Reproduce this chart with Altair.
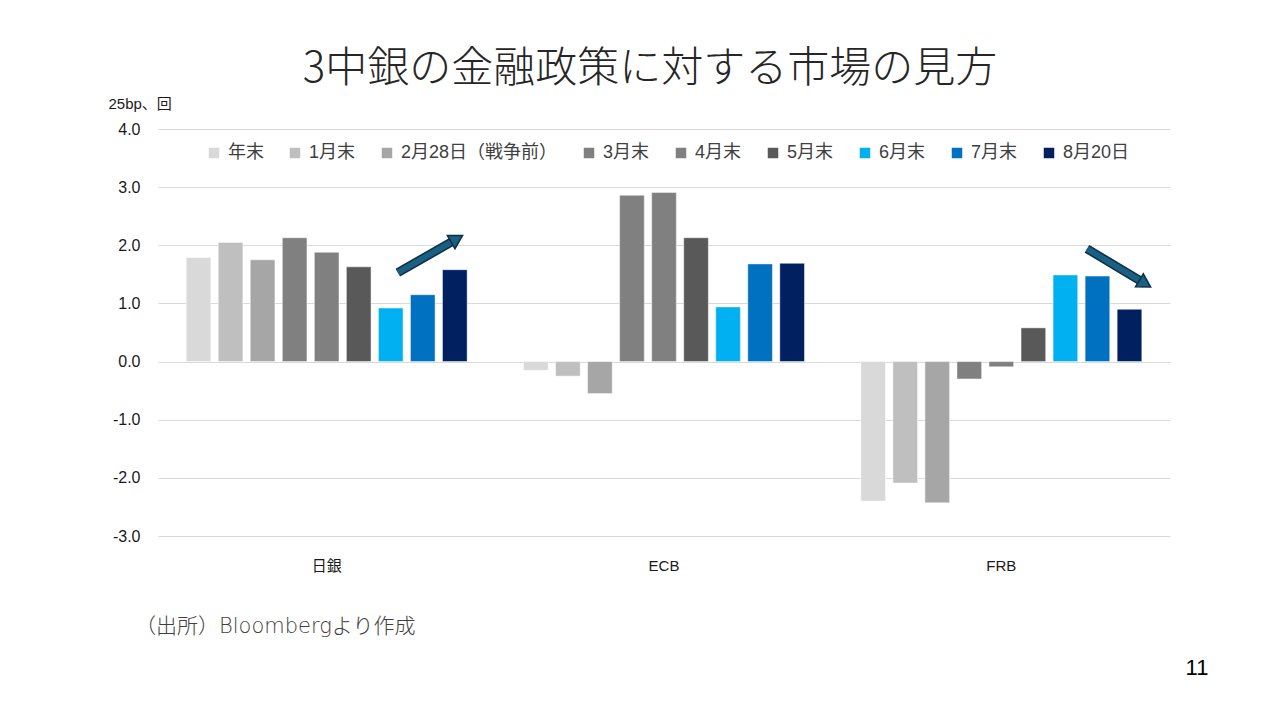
import altair as alt
import pandas as pd

banks = ["日銀", "ECB", "FRB"]
series = ["年末", "1月末", "2月28日（戦争前）", "3月末", "4月末", "5月末", "6月末", "7月末", "8月20日"]
boj = [1.79, 2.05, 1.75, 2.13, 1.88, 1.63, 0.92, 1.15, 1.58]
ecb = [-0.15, -0.25, -0.55, 2.86, 2.91, 2.13, 0.94, 1.68, 1.69]
frb = [-2.40, -2.09, -2.43, -0.30, -0.09, 0.58, 1.49, 1.47, 0.90]
colors = ["#D9D9D9", "#BFBFBF", "#A6A6A6", "#808080", "#808080", "#595959", "#00B0F0", "#0070C0", "#002060"]

# annotation arrows (in group units on x, data units on y)
arrow_id = ["up", "down"]
arrow_x0 = [0.711, 2.754]
arrow_y0 = [1.53, 1.94]
arrow_x1 = [0.886, 2.926]
arrow_y1 = [2.11, 1.34]
arrow_angle = [60, 121]

title_text = "3中銀の金融政策に対する市場の見方"
unit_text = "25bp、回"
note_text = "（出所）Bloombergより作成"
page_text = "11"

rows = []
for b, vals in zip(banks, [boj, ecb, frb]):
    for s, v in zip(series, vals):
        rows.append({"bank": b, "series": s, "value": v})
df = pd.DataFrame(rows)

arrow_rows = []
for i, a in enumerate(arrow_id):
    arrow_rows.append({"id": a, "order": 0, "x": arrow_x0[i], "y": arrow_y0[i]})
    arrow_rows.append({"id": a, "order": 1, "x": arrow_x1[i], "y": arrow_y1[i]})
arrows_df = pd.DataFrame(arrow_rows)
heads_df = pd.DataFrame({"id": arrow_id, "x": arrow_x1, "y": arrow_y1, "angle": arrow_angle})

FONT = "Liberation Sans, Noto Sans CJK JP"

bars = alt.Chart(df).mark_bar(stroke="white", strokeWidth=0.8, strokeOpacity=0.6).encode(
    x=alt.X("bank:N", sort=banks,
            scale=alt.Scale(paddingInner=0, paddingOuter=0),
            axis=alt.Axis(title=None, orient="bottom", labelAngle=0, ticks=False, domain=False,
                          labelFontSize=15, labelColor="#1a1a1a", labelPadding=22, labelFont=FONT)),
    xOffset=alt.XOffset("series:N", sort=series,
                        scale=alt.Scale(paddingInner=0.23, paddingOuter=0.88)),
    y=alt.Y("value:Q",
            scale=alt.Scale(domain=[-3, 4], nice=False),
            axis=alt.Axis(values=[-3, -2, -1, 0, 1, 2, 3, 4],
                          labelExpr="datum.value < 0 ? '-' + format(-datum.value, '.1f') : format(datum.value, '.1f')",
                          ticks=False, domain=False, grid=True, gridColor="#D9D9D9",
                          labelFontSize=16, labelColor="#1a1a1a", labelPadding=18, labelFont=FONT,
                          title=unit_text, titleAngle=0, titleX=-50, titleY=-26,
                          titleAlign="left", titleBaseline="middle", titleFontSize=15,
                          titleFontWeight="normal", titleColor="#1a1a1a", titleFont=FONT)),
    color=alt.Color("series:N", sort=series,
                    scale=alt.Scale(domain=series, range=colors),
                    legend=alt.Legend(title=None, orient="none", direction="horizontal",
                                      legendX=47, legendY=15, columns=9, columnPadding=22,
                                      symbolType="square", symbolSize=110, symbolStrokeWidth=0,
                                      labelFontSize=18, labelColor="#404040", labelFont=FONT,
                                      labelOffset=5)),
)

ax = alt.X("x:Q", scale=alt.Scale(domain=[0, 3], nice=False, zero=False), axis=None)
ay = alt.Y("y:Q")

arrow_outline = alt.Chart(arrows_df).mark_line(strokeWidth=9, color="#0B2F45", strokeCap="butt").encode(
    x=ax, y=ay, detail="id:N", order="order:Q")
arrow_fill = alt.Chart(arrows_df).mark_line(strokeWidth=6, color="#1B5F82", strokeCap="butt").encode(
    x=ax, y=ay, detail="id:N", order="order:Q")
arrow_head = alt.Chart(heads_df).mark_point(shape="triangle-up", filled=True, size=230,
                                            color="#1B5F82", stroke="#0B2F45", strokeWidth=1.5,
                                            opacity=1).encode(
    x=ax, y=ay, angle=alt.Angle("angle:Q", scale=None))

title_mark = alt.Chart(pd.DataFrame({"t": [title_text]})).mark_text(
    font="Noto Sans CJK JP", fontSize=42, fontWeight=300, color="#262626",
    align="center", baseline="middle").encode(
    text="t:N", x=alt.value(492), y=alt.value(-60))

note_mark = alt.Chart(pd.DataFrame({"t": [note_text]})).mark_text(
    font="DejaVu Sans, Noto Sans CJK JP", fontSize=21, fontWeight=300, color="#404040",
    align="left", baseline="middle").encode(
    text="t:N", x=alt.value(-23), y=alt.value(498))

page_mark = alt.Chart(pd.DataFrame({"t": [page_text]})).mark_text(
    font=FONT, fontSize=22, color="#000000", align="center", baseline="middle").encode(
    text="t:N", x=alt.value(1039), y=alt.value(539))

chart = alt.layer(bars, arrow_outline, arrow_fill, arrow_head, title_mark, note_mark, page_mark).resolve_scale(
    x="independent"
).properties(
    width=1012, height=407,
    autosize=alt.AutoSizeParams(type="none"),
    padding={"left": 150, "top": 121, "right": 100, "bottom": 170},
).configure_view(stroke=None)

chart.save("out.html", embed_options={"renderer": "svg", "actions": False})
